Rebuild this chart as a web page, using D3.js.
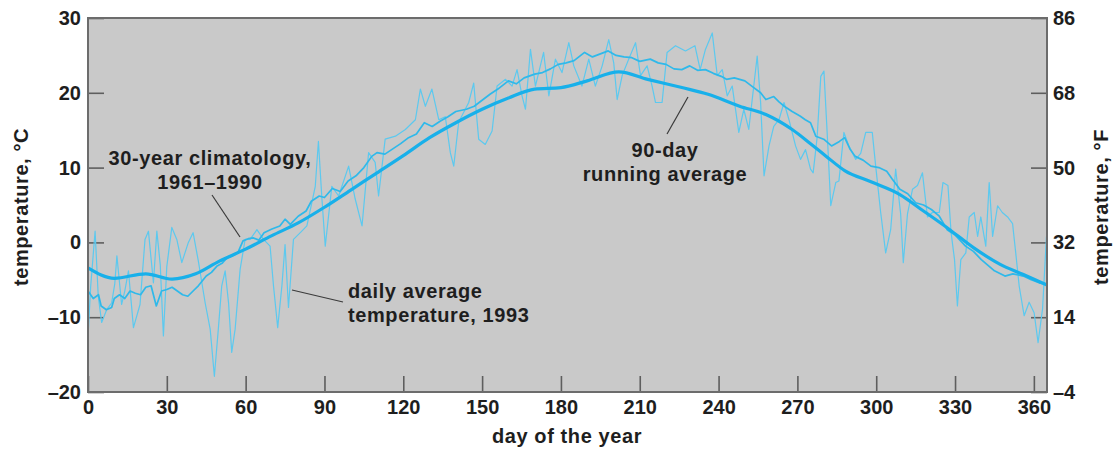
<!DOCTYPE html>
<html>
<head>
<meta charset="utf-8">
<script src="https://cdn.jsdelivr.net/npm/d3@7"></script>
<style>
  html, body { margin: 0; padding: 0; background: #ffffff; }
  svg { display: block; }
  text { font-family: "Liberation Sans", Arial, Helvetica, sans-serif; font-weight: bold; fill: #1e1e1e; }
</style>
</head>
<body>
<svg id="chart" width="1114" height="450"></svg>
<script>
// ---------- data (day of year, °C) ----------
const xTicks = [0, 30, 60, 90, 120, 150, 180, 210, 240, 270, 300, 330, 360];
const cTicks = [-20, -10, 0, 10, 20, 30];
const fTicks = [-4, 14, 32, 50, 68, 86];

const runningDays = [0, 10, 22, 32, 41, 50, 60, 70, 80, 90, 100, 110, 120, 130, 140, 150, 160, 170, 180, 190, 202, 213, 226, 236, 248, 258, 268, 275, 281, 288, 298, 309, 318, 328, 337, 347, 356, 365];
const runningVals = [-3.4, -4.8, -4.2, -4.9, -4.2, -2.5, -0.9, 0.9, 2.6, 4.7, 7.0, 9.3, 11.6, 14.0, 16.0, 17.8, 19.3, 20.5, 20.7, 21.6, 22.8, 21.8, 20.7, 19.8, 18.2, 17.1, 15.1, 13.2, 11.5, 9.6, 8.1, 6.4, 4.2, 1.7, -0.7, -2.9, -4.3, -5.7];

const climDays = [0, 2, 4, 5, 7, 9, 10, 12, 14, 16, 18, 20, 22, 24, 26, 28, 30, 32, 34, 36, 38, 40, 42, 45, 47, 49, 51, 53, 55, 57, 59, 61, 63, 65, 67, 70, 73, 75, 77, 80, 83, 85, 88, 90, 93, 96, 99, 102, 105, 108, 110, 113, 116, 119, 122, 125, 128, 131, 134, 137, 140, 144, 147, 150, 153, 156, 160, 163, 166, 170, 173, 176, 179, 182, 185, 189, 192, 195, 198, 201, 204, 207, 210, 214, 217, 220, 223, 226, 229, 232, 235, 238, 241, 243, 246, 250, 253, 256, 258, 261, 263, 265, 268, 271, 273, 275, 277, 280, 283, 286, 288, 290, 292, 295, 298, 301, 304, 306, 309, 312, 315, 318, 321, 324, 327, 330, 334, 337, 340, 342, 345, 349, 352, 356, 359, 362, 365];
const climVals = [-6.5, -7.5, -7.0, -8.5, -9.0, -8.7, -7.5, -7.0, -7.5, -6.5, -6.8, -7.0, -6.0, -5.8, -8.5, -6.5, -6.3, -6.0, -6.5, -7.0, -7.2, -6.5, -5.8, -4.5, -4.0, -3.2, -2.8, -2.0, -1.8, -1.4, 0.2, 0.5, 0.6, 0.3, 1.3, 1.8, 2.2, 3.1, 2.4, 3.5, 4.2, 5.5, 6.2, 6.0, 7.2, 6.8, 8.2, 8.9, 10.0, 11.5, 12.0, 11.8, 12.5, 13.2, 14.0, 14.5, 16.0, 15.5, 16.2, 16.8, 17.5, 17.8, 18.2, 19.0, 19.8, 20.5, 21.6, 21.2, 22.0, 22.5, 22.7, 23.2, 23.8, 24.0, 24.3, 25.4, 24.8, 25.2, 25.6, 25.0, 24.8, 24.7, 24.2, 24.5, 24.0, 23.8, 23.2, 23.1, 23.6, 23.0, 23.1, 22.6, 22.2, 21.8, 22.0, 21.6, 20.8, 20.0, 19.1, 19.5, 18.8, 18.2, 17.5, 16.9, 16.4, 16.0, 14.2, 13.8, 12.9, 13.5, 14.0, 12.5, 11.5, 11.0, 10.2, 10.0, 9.5, 8.5, 7.1, 6.5, 5.3, 5.0, 4.4, 3.5, 1.7, 1.0, -0.5, -1.2, -2.3, -2.9, -3.8, -4.5, -4.2, -4.5, -5.0, -5.4, -5.6];

const dailyDays = [0, 1, 2.7, 3.9, 5.2, 7.1, 9, 10.2, 11, 12.8, 14, 15.4, 17.3, 19.8, 21.7, 23, 24.9, 26.2, 27.5, 28.7, 30, 31.9, 33.8, 35.7, 38.2, 40, 42, 44.6, 46.5, 48.1, 49.6, 50.9, 52.2, 53.5, 54.7, 56, 57.9, 59.8, 61.7, 64.3, 66.8, 69.3, 70.6, 72.2, 73.8, 75, 76.3, 78.2, 80.8, 83.3, 85, 86.5, 87.7, 89, 90.3, 92.8, 95.4, 99.2, 101.7, 104.3, 106.8, 109.3, 110.6, 113.1, 117, 120.8, 124.6, 126.5, 128.4, 130.9, 133.5, 136, 137.9, 139.2, 141.1, 144.9, 146.8, 148.7, 151.2, 153.8, 155.7, 158.9, 161.4, 163.3, 165.2, 166.5, 168.4, 170.3, 173.4, 175.4, 177.9, 180.4, 183, 184.9, 188, 190.6, 193.1, 195.7, 198.2, 200.1, 201.4, 203.3, 205.8, 208.4, 210.3, 212.8, 214.7, 216, 218.5, 220.4, 223.6, 227.4, 231, 233, 235, 237.6, 239.5, 241.4, 243.3, 245.2, 247.7, 249.6, 251.5, 254.7, 256, 257.3, 259.2, 261, 263, 264.9, 266.8, 269.3, 271.2, 273.1, 275, 276, 277.5, 278.9, 280.1, 281.4, 282.7, 284.6, 285.8, 287.7, 289.6, 292.2, 294.1, 296, 298.5, 299.8, 301.7, 303.6, 305.5, 307.4, 309.3, 310.3, 311.9, 313.8, 315.7, 317.6, 319.5, 321.4, 324, 325.4, 327.3, 328.5, 329.8, 330.9, 332.2, 334.1, 335.4, 337.3, 338.6, 339.8, 341.7, 343, 344.3, 346.2, 348, 350, 351.9, 353.1, 354.4, 356.3, 358.2, 360.1, 361.6, 363.3, 364.8];
const dailyVals = [-12.7, -6.0, 1.5, -7.2, -10.7, -9.0, -8.1, -5.5, -1.8, -8.3, -6.5, -3.8, -11.4, -8.3, 0.4, 1.5, -5.4, 1.5, -3.0, -12.5, -3.2, 2.0, 0.4, -2.7, 0.0, 1.3, -2.5, -8.1, -11.6, -17.9, -11.6, -5.8, -3.8, -8.1, -14.7, -11.6, -3.6, 0.4, 0.4, 1.7, 0.4, -0.5, -5.8, -11.4, -5.8, -0.3, -8.7, 0.4, 1.3, 2.2, 5.0, 7.5, 13.5, 6.0, -0.5, 7.5, 6.2, 10.2, 5.8, 2.2, 12.0, 10.7, 6.2, 13.8, 14.2, 15.1, 16.4, 20.5, 18.2, 20.5, 16.4, 16.8, 12.0, 10.2, 16.1, 18.7, 21.3, 13.8, 13.1, 14.9, 20.9, 21.8, 20.9, 23.1, 19.6, 17.8, 25.8, 20.9, 25.4, 19.6, 24.5, 22.7, 26.7, 23.6, 20.9, 24.5, 20.9, 23.6, 27.1, 24.0, 19.1, 22.3, 24.5, 26.7, 22.3, 23.6, 20.9, 18.7, 18.7, 25.4, 26.3, 25.6, 26.3, 23.1, 25.8, 28.0, 22.3, 23.1, 19.6, 20.9, 14.7, 17.8, 15.1, 24.9, 18.7, 8.9, 12.9, 15.5, 16.4, 18.7, 16.4, 12.9, 11.1, 12.4, 9.8, 9.3, 14.0, 22.2, 22.9, 14.2, 4.9, 8.0, 8.2, 14.7, 12.9, 11.1, 11.9, 14.7, 14.7, 10.2, 4.0, -1.4, 1.7, 9.8, 3.8, -2.7, 3.8, 7.1, 7.6, 9.3, 3.4, 4.0, 4.0, 8.0, 7.6, 1.3, -2.3, -8.5, -2.3, -1.4, 3.4, 4.0, 0.8, 3.4, -0.5, 8.0, 0.8, 4.9, 4.0, 3.4, 2.5, -1.4, -5.8, -9.8, -8.0, -9.4, -13.4, -8.9, 0.8];

// ---------- layout ----------
const svg = d3.select("#chart");
const pLeft = 88, pRight = 1047, pTop = 18, pBottom = 392;
const FS = "20px";

const x = d3.scaleLinear().domain([0, 365]).range([pLeft, pRight]);
const yC = d3.scaleLinear().domain([-20, 30]).range([pBottom, pTop]);
const yF = d3.scaleLinear().domain([-4, 86]).range([pBottom, pTop]);

// plot background
svg.append("rect")
  .attr("x", pLeft).attr("y", pTop)
  .attr("width", pRight - pLeft).attr("height", pBottom - pTop)
  .attr("fill", "#c9c9c9");

const fmt = d => d < 0 ? "\u2013" + Math.abs(d) : String(d);

function styleAxis(g) {
  g.select(".domain").remove();
  g.selectAll(".tick line").attr("stroke", "#5e5e5e").attr("stroke-width", 1.6);
  g.selectAll(".tick text")
    .attr("fill", "#1e1e1e")
    .style("font-size", FS)
    .style("font-family", "'Liberation Sans', Arial, sans-serif")
    .style("font-weight", "bold");
}

svg.append("g")
  .attr("transform", `translate(${pLeft},0)`)
  .call(d3.axisLeft(yC).tickValues(cTicks).tickSize(-16).tickPadding(7).tickFormat(fmt))
  .call(styleAxis);

svg.append("g")
  .attr("transform", `translate(${pRight},0)`)
  .call(d3.axisRight(yF).tickValues(fTicks).tickSize(-16).tickPadding(6).tickFormat(fmt))
  .call(styleAxis);

svg.append("g")
  .attr("transform", `translate(0,${pBottom})`)
  .call(d3.axisBottom(x).tickValues(xTicks).tickSize(-16).tickPadding(8).tickFormat(fmt))
  .call(styleAxis);

// lines
const mk = (days, vals) => days.map((d, i) => ({ d, v: vals[i] }));
const lineLin = d3.line().x(p => x(p.d)).y(p => yC(p.v));
const lineSmooth = d3.line().x(p => x(p.d)).y(p => yC(p.v)).curve(d3.curveMonotoneX);

const plot = svg.append("g");
plot.append("path").datum(mk(dailyDays, dailyVals))
  .attr("d", lineLin).attr("fill", "none")
  .attr("stroke", "#5cc9ef").attr("stroke-width", 1.2).attr("stroke-linejoin", "round");
plot.append("path").datum(mk(climDays, climVals))
  .attr("d", lineLin).attr("fill", "none")
  .attr("stroke", "#2fb9ea").attr("stroke-width", 1.7).attr("stroke-linejoin", "round");
plot.append("path").datum(mk(runningDays, runningVals))
  .attr("d", lineSmooth).attr("fill", "none")
  .attr("stroke", "#18b0ea").attr("stroke-width", 3.2).attr("stroke-linejoin", "round");

// frame
svg.append("rect")
  .attr("x", pLeft).attr("y", pTop)
  .attr("width", pRight - pLeft).attr("height", pBottom - pTop)
  .attr("fill", "none").attr("stroke", "#6c6c6c").attr("stroke-width", 2);

// annotations
const ann = svg.append("g").style("font-size", FS);
function label(lines, ax, ay, anchor, gap) {
  lines.forEach((t, i) => {
    ann.append("text").attr("x", ax).attr("y", ay + i * gap)
      .attr("text-anchor", anchor).style("letter-spacing", "0.6px").text(t);
  });
}
function leader(x1, y1, x2, y2) {
  ann.append("line").attr("x1", x1).attr("y1", y1).attr("x2", x2).attr("y2", y2)
    .attr("stroke", "#3a3a3a").attr("stroke-width", 1.2);
}
label(["30-year climatology,", "1961\u20131990"], 210, 165, "middle", 24);
leader(212, 195, 240, 237);
label(["90-day", "running average"], 665, 157, "middle", 23.5);
leader(667, 134, 688, 97);
label(["daily average", "temperature, 1993"], 348, 298, "start", 23.5);
leader(292, 290, 343, 302);

// axis titles
svg.append("text").attr("x", 567).attr("y", 443).attr("text-anchor", "middle")
  .style("font-size", FS).style("letter-spacing", "0.6px").text("day of the year");
svg.append("text").attr("transform", "translate(21,207) rotate(-90)")
  .attr("text-anchor", "middle").attr("dy", "0.35em")
  .style("font-size", FS).style("letter-spacing", "0.6px").text("temperature, \u00B0C");
svg.append("text").attr("transform", "translate(1101,207) rotate(-90)")
  .attr("text-anchor", "middle").attr("dy", "0.35em")
  .style("font-size", FS).style("letter-spacing", "0.6px").text("temperature, \u00B0F");
</script>
</body>
</html>
